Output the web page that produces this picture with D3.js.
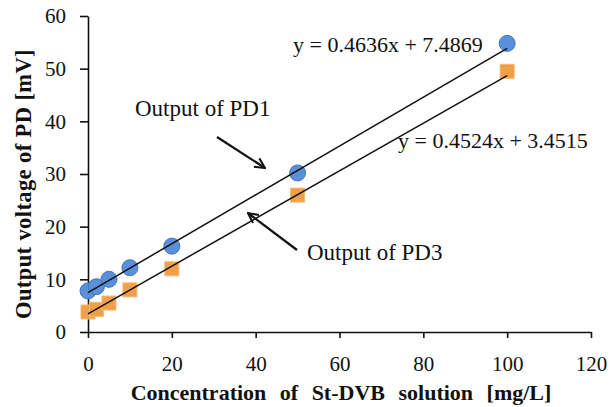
<!DOCTYPE html>
<html>
<head>
<meta charset="utf-8">
<script src="https://cdn.jsdelivr.net/npm/d3@7"></script>
<style>
  body { margin: 0; background: #fff; }
  svg text { font-family: "Liberation Serif", "DejaVu Serif", serif; }
</style>
</head>
<body>
<div id="chart"></div>
<script>
// concentration values [mg/L]
const conc = [0, 2, 5, 10, 20, 50, 100];
// output voltages [mV]
const pd1 = [7.8, 8.6, 10.0, 12.2, 16.3, 30.2, 54.8];
const pd3 = [3.8, 4.3, 5.5, 8.0, 12.0, 26.0, 49.5];
// trendline coefficients
const fit1 = { slope: 0.4636, intercept: 7.4869, label: 'y = 0.4636x + 7.4869' };
const fit3 = { slope: 0.4524, intercept: 3.4515, label: 'y = 0.4524x + 3.4515' };
const xTicks = [0, 20, 40, 60, 80, 100, 120];
const yTicks = [0, 10, 20, 30, 40, 50, 60];

const width = 612;
const height = 407;
const margin = { top: 16, right: 21, bottom: 75, left: 88 };

const svg = d3.select('#chart').append('svg')
  .attr('width', width)
  .attr('height', height);

const x = d3.scaleLinear().domain([0, 120]).range([margin.left, width - margin.right]);
const y = d3.scaleLinear().domain([0, 60]).range([height - margin.bottom, margin.top]);

// axes
const xAxis = svg.append('g')
  .attr('transform', `translate(0,${y(0)})`)
  .call(d3.axisBottom(x).tickValues(xTicks).tickSize(6).tickPadding(18).tickSizeOuter(0));
const yAxis = svg.append('g')
  .attr('transform', `translate(${x(0)},0)`)
  .call(d3.axisLeft(y).tickValues(yTicks).tickSize(8).tickPadding(14).tickSizeOuter(0));

[xAxis, yAxis].forEach(a => {
  a.attr('font-family', null);
  a.select('.domain').attr('stroke', '#111').attr('stroke-width', 1.6);
  a.selectAll('.tick line').attr('stroke', '#111').attr('stroke-width', 1.6);
  a.selectAll('.tick text')
    .style('font-family', '"Liberation Serif", serif')
    .style('font-size', '21px')
    .attr('fill', '#111');
});

// axis titles
svg.append('text')
  .attr('x', 341)
  .attr('y', 400)
  .attr('text-anchor', 'middle')
  .attr('font-size', 22)
  .attr('font-weight', 'bold')
  .attr('fill', '#111')
  .style('word-spacing', '8px')
  .text('Concentration of St-DVB solution [mg/L]');

svg.append('text')
  .attr('transform', 'translate(31,184) rotate(-90)')
  .attr('text-anchor', 'middle')
  .attr('font-size', 22.5)
  .attr('font-weight', 'bold')
  .attr('fill', '#111')
  .style('letter-spacing', '0.4px')
  .text('Output voltage of PD [mV]');

// PD3 squares
const sq = 14;
svg.selectAll('.pd3')
  .data(conc.map((c, i) => [c, pd3[i]]))
  .enter().append('rect')
  .attr('class', 'pd3')
  .attr('x', d => x(d[0]) - sq / 2)
  .attr('y', d => y(d[1]) - sq / 2)
  .attr('width', sq)
  .attr('height', sq)
  .attr('fill', '#f0a048')
  .attr('stroke', '#f6b870')
  .attr('stroke-width', 1);

// PD1 circles
svg.selectAll('.pd1')
  .data(conc.map((c, i) => [c, pd1[i]]))
  .enter().append('circle')
  .attr('class', 'pd1')
  .attr('cx', d => x(d[0]))
  .attr('cy', d => y(d[1]))
  .attr('r', 8)
  .attr('fill', '#5b8fd8')
  .attr('stroke', '#3f74c4')
  .attr('stroke-width', 1);

// trendlines, drawn over the markers
svg.selectAll('.trend')
  .data([fit1, fit3])
  .enter().append('line')
  .attr('class', 'trend')
  .attr('x1', x(0))
  .attr('y1', d => y(d.intercept))
  .attr('x2', x(100))
  .attr('y2', d => y(d.slope * 100 + d.intercept))
  .attr('stroke', '#111')
  .attr('stroke-width', 1.5);

// equations
svg.append('text')
  .attr('x', 293).attr('y', 52)
  .attr('font-size', 22).attr('fill', '#111')
  .text(fit1.label);
svg.append('text')
  .attr('x', 398).attr('y', 148)
  .attr('font-size', 22).attr('fill', '#111')
  .text(fit3.label);

// annotations with arrows
svg.append('defs').append('marker')
  .attr('id', 'arrow')
  .attr('viewBox', '0 0 12 12')
  .attr('refX', 11).attr('refY', 6)
  .attr('markerWidth', 12).attr('markerHeight', 12)
  .attr('markerUnits', 'userSpaceOnUse')
  .attr('orient', 'auto')
  .append('path')
  .attr('d', 'M1,1 L11,6 L1,11')
  .attr('fill', 'none')
  .attr('stroke', '#111')
  .attr('stroke-width', 2);

svg.append('text')
  .attr('x', 135).attr('y', 116)
  .attr('font-size', 23).attr('fill', '#111')
  .text('Output of PD1');
svg.append('line')
  .attr('x1', 217).attr('y1', 137)
  .attr('x2', 265).attr('y2', 168)
  .attr('stroke', '#111').attr('stroke-width', 2.2)
  .attr('marker-end', 'url(#arrow)');

svg.append('text')
  .attr('x', 307).attr('y', 260)
  .attr('font-size', 23).attr('fill', '#111')
  .text('Output of PD3');
svg.append('line')
  .attr('x1', 297).attr('y1', 250)
  .attr('x2', 248).attr('y2', 213)
  .attr('stroke', '#111').attr('stroke-width', 2.2)
  .attr('marker-end', 'url(#arrow)');
</script>
</body>
</html>
